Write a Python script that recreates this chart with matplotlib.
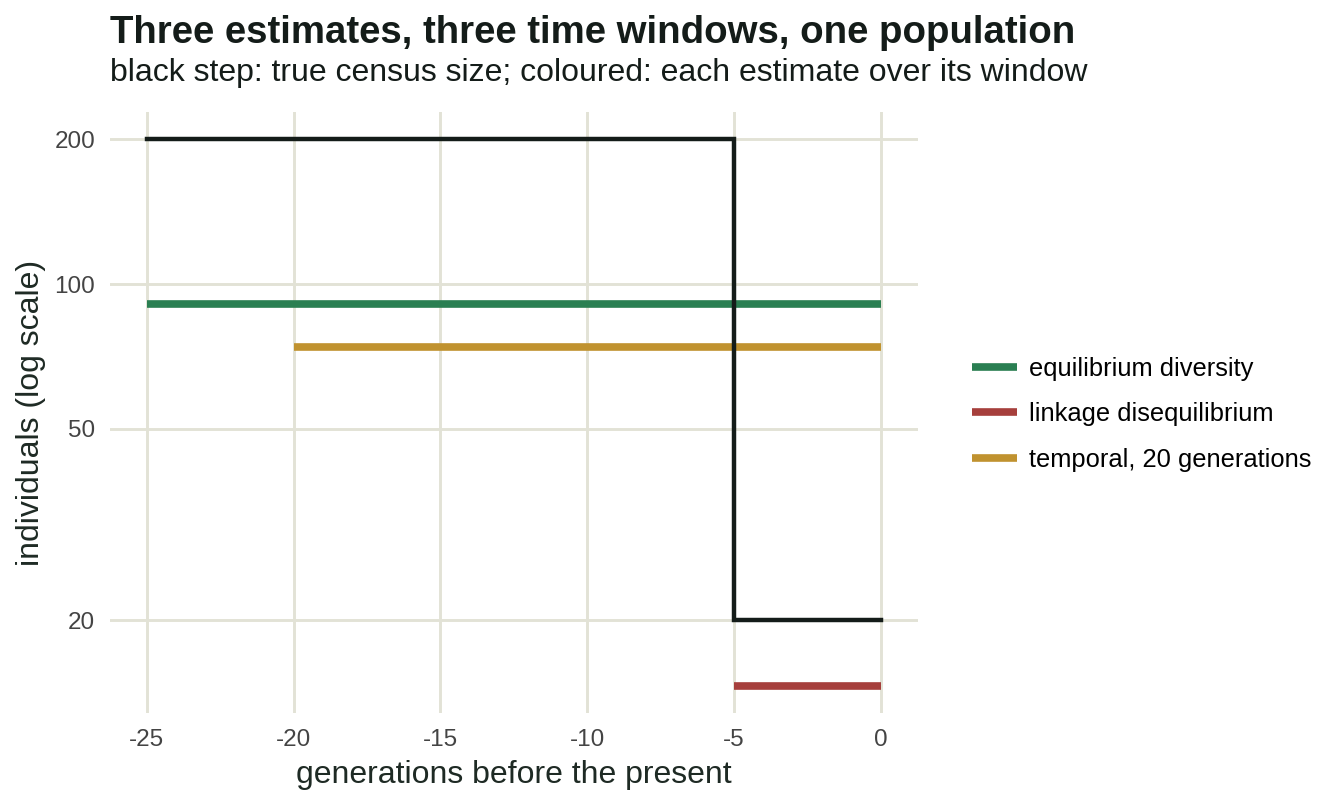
import matplotlib.pyplot as plt
from matplotlib.ticker import FixedLocator, NullLocator

plt.rcParams['font.family'] = ['Liberation Sans', 'DejaVu Sans']

# true census size (step)
census_gen = [-25, -5, 0]
census_size = [200, 20, 20]

# estimates over their windows
est_names = ['equilibrium diversity', 'linkage disequilibrium', 'temporal, 20 generations']
est_start = [-25, -5, -20]
est_end = [0, 0, 0]
est_value = [91, 14.6, 74]
est_colors = ['#2a7f52', '#a63f3c', '#c0922f']

y_ticks = [20, 50, 100, 200]
x_ticks = [-25, -20, -15, -10, -5, 0]

fig = plt.figure(figsize=(13.44, 8.06), dpi=100)
ax = fig.add_axes([0.0818, 0.115, 0.601, 0.746])

ax.set_yscale('log')
for spine in ax.spines.values():
    spine.set_visible(False)
ax.set_xlim(-26.25, 1.25)
ax.set_ylim(14.6 / 10 ** 0.0568, 200 * 10 ** 0.0568)
ax.yaxis.set_major_locator(FixedLocator(y_ticks))
ax.yaxis.set_minor_locator(NullLocator())
ax.set_yticks(y_ticks)
ax.set_yticklabels([str(v) for v in y_ticks])
ax.set_xticks(x_ticks)
ax.set_xticklabels([str(v) for v in x_ticks])
ax.grid(True, color='#e2e2d6', linewidth=2.1)
ax.set_axisbelow(True)
ax.tick_params(length=0, labelsize=17.5, labelcolor='#444444')
ax.tick_params(axis='y', pad=10.5)
ax.tick_params(axis='x', pad=11)

ax.plot(census_gen, census_size, drawstyle='steps-post', color='#141c19',
        linewidth=3.2, solid_joinstyle='miter', zorder=3)

handles = []
for name, s, e, v, c in zip(est_names, est_start, est_end, est_value, est_colors):
    h, = ax.plot([s, e], [v, v], color=c, linewidth=5.5, solid_capstyle='butt',
                 label=name, zorder=2)
    handles.append(h)

ax.set_xlabel('generations before the present', fontsize=23, color='#1e2a24',
              va='center')
ax.xaxis.set_label_coords(0.3824, 1 - 775 / 806, transform=fig.transFigure)
ax.set_ylabel('individuals (log scale)', fontsize=23, color='#1e2a24',
              va='center')
ax.yaxis.set_label_coords(31 / 1344, ax.get_position().y0 + ax.get_position().height / 2,
                          transform=fig.transFigure)

fig.text(0.0818, 1 - 43 / 806, 'Three estimates, three time windows, one population',
         fontsize=27.6, fontweight='bold', color='#141c19', va='baseline')
fig.text(0.0818, 1 - 81 / 806, 'black step: true census size; coloured: each estimate over its window',
         fontsize=23, color='#141c19', va='baseline')

fig.legend(handles=handles, loc='center left', bbox_to_anchor=(0.706, 0.486),
           frameon=False, fontsize=18.4, handlelength=1.75, handletextpad=0.5,
           labelspacing=0.85)

fig.savefig('out.png', dpi=100, facecolor='white')
